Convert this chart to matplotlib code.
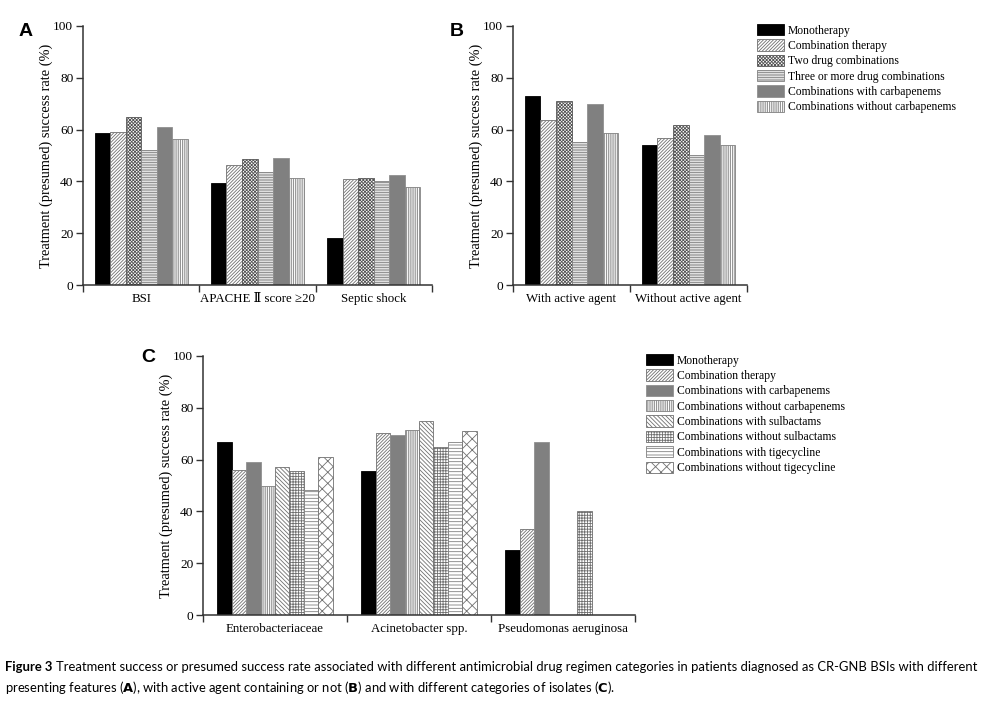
import numpy as np
import matplotlib
matplotlib.use("Agg")
import matplotlib.pyplot as plt
from matplotlib.patches import Patch

# -------------------------
# Data
# -------------------------
groups_a = ["BSI", "APACHE \u2161 score \u226520", "Septic shock"]
groups_b = ["With active agent", "Without active agent"]
series_ab = ["Monotherapy", "Combination therapy", "Two drug combinations",
             "Three or more drug combinations", "Combinations with carbapenems",
             "Combinations without carbapenems"]

# rows = series, cols = groups
vals_a = [
    [58.5, 39.3, 18.2],
    [59.2, 46.3, 40.9],
    [65.0, 48.6, 41.3],
    [52.0, 43.6, 40.3],
    [61.1, 49.0, 42.3],
    [56.2, 41.2, 37.8],
]
vals_b = [
    [72.9, 54.2],
    [63.6, 56.8],
    [71.0, 61.9],
    [55.2, 50.1],
    [70.0, 58.1],
    [58.7, 54.0],
]

groups_c = ["Enterobacteriaceae", "Acinetobacter spp.", "Pseudomonas aeruginosa"]
series_c = ["Monotherapy", "Combination therapy", "Combinations with carbapenems",
            "Combinations without carbapenems", "Combinations with sulbactams",
            "Combinations without sulbactams", "Combinations with tigecycline",
            "Combinations without tigecycline"]
vals_c = [
    [66.7, 55.6, 25.0],
    [55.9, 70.3, 33.3],
    [59.1, 69.6, 66.7],
    [50.0, 71.4, 0],
    [57.1, 75.0, 0],
    [55.6, 64.7, 40.0],
    [48.4, 66.7, 0],
    [60.9, 71.0, 0],
]

# -------------------------
# Styles (face, edge/hatch colour, hatch)
# -------------------------
styles_ab = [
    ("black", "black", None),
    ("white", "#707070", "/" * 10),
    ("white", "#555555", "x" * 10),
    ("white", "#808080", "-" * 10),
    ("#808080", "#909090", None),
    ("white", "#808080", "|" * 9),
]
styles_c = [
    ("black", "black", None),
    ("white", "#707070", "/" * 10),
    ("#808080", "#909090", None),
    ("white", "#808080", "|" * 9),
    ("white", "#707070", "\\" * 8),
    ("white", "#707070", "+" * 6),
    ("white", "#808080", "-" * 5),
    ("white", "#707070", "xxx"),
]

plt.rcParams["hatch.linewidth"] = 0.6
serif = ["Liberation Serif", "DejaVu Serif"]
plt.rcParams["font.family"] = serif

W, H = 999, 716
fig = plt.figure(figsize=(W / 100, H / 100), dpi=100)


def px_axes(x0, y0, x1, y1):
    return fig.add_axes([x0 / W, 1 - y1 / H, (x1 - x0) / W, (y1 - y0) / H])


def bar_panel(ax, groups, series, vals, styles):
    n = len(groups)
    k = len(series)
    width = 0.8 / k
    x = np.arange(n)
    for i, (name, v, st) in enumerate(zip(series, vals, styles)):
        face, edge, hatch = st
        ax.bar(x - 0.4 + width * (i + 0.5), v, width, color=face,
               edgecolor=edge, hatch=hatch, linewidth=0.6, label=name)
    ax.set_xlim(-0.5, n - 0.5)
    ax.set_ylim(0, 100)
    ax.set_yticks(np.arange(0, 101, 20))
    ax.set_xticks(np.arange(-0.5, n, 1))
    ax.set_xticklabels([])
    ax.set_xticks(x, minor=True)
    ax.set_xticklabels(groups, minor=True, fontsize=9.3)
    ax.tick_params(axis="x", which="minor", length=0, pad=6)
    ax.tick_params(axis="x", which="major", length=5, width=1, color="#333333")
    ax.tick_params(axis="y", length=5, width=1, color="#333333", labelsize=9.6, pad=2)
    for s in ["top", "right"]:
        ax.spines[s].set_visible(False)
    for s in ["left", "bottom"]:
        ax.spines[s].set_color("#333333")
        ax.spines[s].set_linewidth(1.1)
    ax.set_ylabel("Treatment (presumed) success rate (%)", fontsize=10.4, labelpad=0)


ax_a = px_axes(83, 26, 432, 285)
bar_panel(ax_a, groups_a, series_ab, vals_a, styles_ab)

ax_b = px_axes(513, 26, 747, 285)
bar_panel(ax_b, groups_b, series_ab, vals_b, styles_ab)

ax_c = px_axes(203, 356, 635, 615)
bar_panel(ax_c, groups_c, series_c, vals_c, styles_c)

# legends
def make_legend(series, styles, x, y):
    handles = [Patch(facecolor=f, edgecolor=e, hatch=h, linewidth=0.6)
               for f, e, h in styles]
    fig.legend(handles, series, loc="upper left",
               bbox_to_anchor=(x / W, 1 - y / H), frameon=False,
               fontsize=8.4, handlelength=2.3, handleheight=1.1,
               labelspacing=0.24, handletextpad=0.35, borderpad=0,
               borderaxespad=0)

make_legend(series_ab, styles_ab, 757, 24)
make_legend(series_c, styles_c, 646, 354)

# panel letters
for lab, (px, py) in {"A": (26, 32), "B": (457, 31), "C": (148, 357)}.items():
    fig.text(px / W, 1 - py / H, lab, fontsize=14, fontweight="bold",
             family="Liberation Sans", ha="center", va="center")

# caption
cap_font = ["Lato", "DejaVu Sans"]
cap_size = 9.4
t1 = fig.text(5 / W, 1 - 667 / H, "Figure 3", fontsize=cap_size, fontweight="bold",
              family=cap_font, va="center")
fig.canvas.draw()
bb = t1.get_window_extent()
fig.text((bb.x1 + 4) / W, 1 - 667 / H,
         "Treatment success or presumed success rate associated with different antimicrobial "
         "drug regimen categories in patients diagnosed as CR-GNB BSIs with different",
         fontsize=cap_size, family=cap_font, va="center")
fig.text(5 / W, 1 - 688 / H,
         "presenting features ($\\bf{A}$), with active agent containing or not ($\\bf{B}$) "
         "and with different categories of isolates ($\\bf{C}$).",
         fontsize=cap_size, family=cap_font, va="center")

fig.savefig("out.png", dpi=100)
